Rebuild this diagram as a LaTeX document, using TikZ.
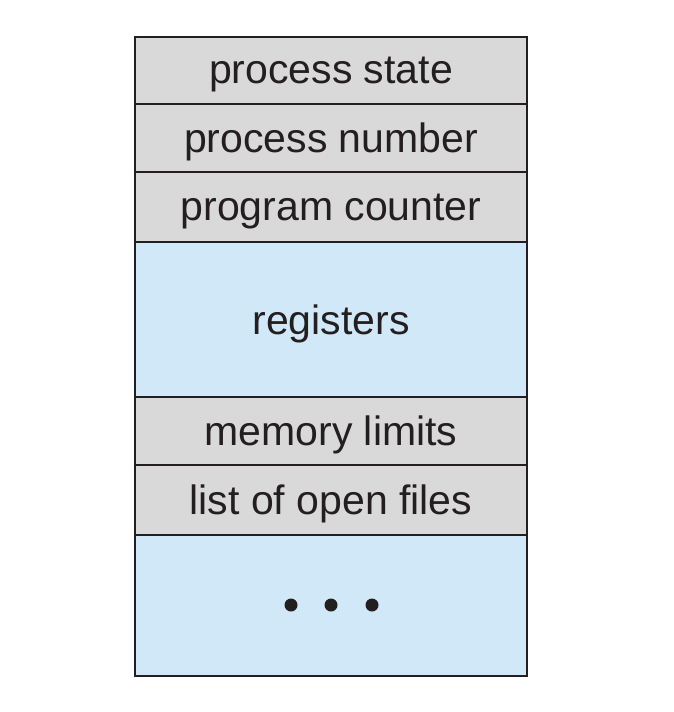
\documentclass[tikz,border=0pt]{standalone}
\usepackage{fontspec}
\setmainfont{Liberation Sans}
\definecolor{pcbgray}{RGB}{217,217,217}
\definecolor{pcbblue}{RGB}{208,232,248}
\definecolor{pcbtext}{RGB}{35,31,32}
\begin{document}
\begin{tikzpicture}[x=1pt,y=-1pt]
		\useasboundingbox (0,0) rectangle (674,712);
		\tikzset{pcblabel/.style={font=\fontsize{41}{46}\selectfont, text=pcbtext}}
		\fill[pcbgray] (135,37) rectangle (527,242);
		\fill[pcbblue] (135,242) rectangle (527,397);
		\fill[pcbgray] (135,397) rectangle (527,535);
		\fill[pcbblue] (135,535) rectangle (527,676);
		\draw[line width=1.2pt, pcbtext] (135,104) -- (527,104);
		\draw[line width=1.2pt, pcbtext] (135,172) -- (527,172);
		\draw[line width=1.2pt, pcbtext] (135,242) -- (527,242);
		\draw[line width=1.2pt, pcbtext] (135,397) -- (527,397);
		\draw[line width=1.2pt, pcbtext] (135,465) -- (527,465);
		\draw[line width=1.2pt, pcbtext] (135,535) -- (527,535);
		\draw[line width=2.2pt, pcbtext] (135,37) rectangle (527,676);

		\node[pcblabel] (state) at (331,74) {process state};
		\node[pcblabel] (number) at (331,142) {process number};
		\node[pcblabel] (counter) at (331,211) {program counter};
		\node[pcblabel] (registers) at (331,324) {registers};
		\node[pcblabel] (memory) at (331,435) {memory limits};
		\node[pcblabel] (files) at (331,504) {list of open files};
		\foreach \x in {291,331,372}
			\fill[pcbtext] (\x,605) circle (6.5);
	\end{tikzpicture}
\end{document}
